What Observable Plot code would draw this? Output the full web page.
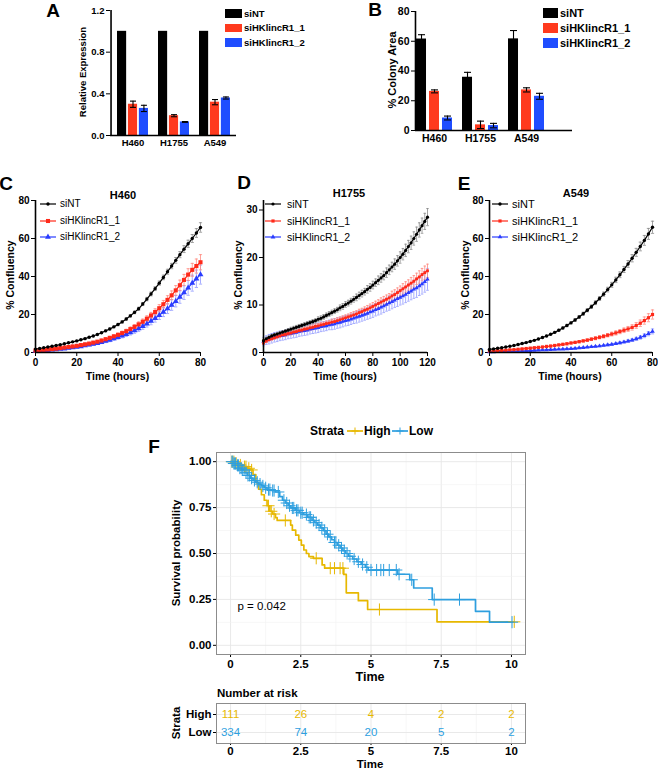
<!DOCTYPE html>
<html><head><meta charset="utf-8">
<script src="https://cdn.jsdelivr.net/npm/d3@7"></script>
<script src="https://cdn.jsdelivr.net/npm/@observablehq/plot@0.6"></script>
<style>
body{margin:0;background:#fff;}
#root{position:relative;width:658px;height:771px;overflow:hidden;font-family:"Liberation Sans",Arial,sans-serif;background:#fff;}
#root svg{overflow:visible;}
</style></head><body><div id="root"></div>
<script>
// ---------------- DATA ----------------
const barSeries = ["siNT", "siHKlincR1_1", "siHKlincR1_2"];
const cellLines = ["H460", "H1755", "A549"];
// Panel A: relative expression (per cell line)
const exprSiNT = [1.0, 1.0, 1.0];
const exprSiNTErr = [0, 0, 0];
const exprSi1 = [0.30, 0.19, 0.32];
const exprSi1Err = [0.03, 0.01, 0.025];
const exprSi2 = [0.26, 0.13, 0.36];
const exprSi2Err = [0.03, 0.004, 0.01];
const exprTicks = [0, 0.4, 0.8, 1.2];
// Panel B: % colony area
const colonySiNT = [61.5, 35.8, 61.6];
const colonySiNTErr = [2.9, 3.3, 5.6];
const colonySi1 = [26.3, 3.8, 27.3];
const colonySi1Err = [1.0, 2.5, 1.4];
const colonySi2 = [8.4, 3.3, 23.0];
const colonySi2Err = [1.3, 1.5, 2.0];
const colonyTicks = [0, 20, 40, 60, 80];

// Panels C-E: % confluency over time
const hoursCE = [0,2,4,6,8,10,12,14,16,18,20,22,24,26,28,30,32,34,36,38,40,42,44,46,48,50,52,54,56,58,60,62,64,66,68,70,72,74,76,78,80];
const hoursD = [0,2,4,6,8,10,12,14,16,18,20,22,24,26,28,30,32,34,36,38,40,42,44,46,48,50,52,54,56,58,60,62,64,66,68,70,72,74,76,78,80,82,84,86,88,90,92,94,96,98,100,102,104,106,108,110,112,114,116,118,120];

const h460SiNT = [1.8,2.1,2.5,2.9,3.3,3.7,4.1,4.6,5.1,5.6,6.1,6.7,7.3,8.0,8.7,9.5,10.4,11.4,12.4,13.5,14.7,16.1,17.6,19.3,21.1,23.0,25.5,28.1,30.8,33.6,36.5,39.5,42.5,45.5,48.5,51.5,54.4,57.2,60.0,62.9,65.8];
const h460SiNTErr = [0.2,0.2,0.2,0.2,0.2,0.2,0.2,0.3,0.3,0.3,0.3,0.3,0.3,0.4,0.4,0.4,0.4,0.5,0.5,0.5,0.6,0.6,0.6,0.7,0.7,0.8,0.8,0.9,1.0,1.0,1.1,1.2,1.3,1.4,1.5,1.6,1.8,1.9,2.1,2.3,2.5];
const h460Si1 = [1.0,1.2,1.4,1.6,1.8,2.0,2.3,2.6,2.9,3.2,3.5,3.9,4.3,4.7,5.2,5.7,6.3,7.0,7.7,8.5,9.3,10.2,11.2,12.3,13.5,14.8,16.2,17.8,19.5,21.3,23.3,25.4,27.7,30.1,32.7,35.4,38.2,41.0,43.5,45.5,47.5];
const h460Si1Err = [0.2,0.2,0.2,0.2,0.3,0.3,0.3,0.3,0.4,0.4,0.4,0.5,0.5,0.5,0.6,0.6,0.7,0.7,0.8,0.8,0.9,1.0,1.0,1.1,1.2,1.3,1.4,1.5,1.6,1.7,1.9,2.0,2.2,2.3,2.5,2.7,2.9,3.1,3.4,3.7,4.0];
const h460Si2 = [0.8,0.9,1.0,1.2,1.4,1.6,1.8,2.0,2.3,2.6,2.9,3.2,3.6,4.0,4.4,4.9,5.4,6.0,6.6,7.3,8.0,8.8,9.6,10.5,11.5,12.6,13.8,15.1,16.5,18.0,19.6,21.3,23.1,25.0,27.0,29.2,31.5,34.0,36.5,38.8,41.0];
const h460Si2Err = [0.2,0.2,0.2,0.3,0.3,0.3,0.3,0.4,0.4,0.4,0.5,0.5,0.5,0.6,0.6,0.7,0.7,0.8,0.9,0.9,1.0,1.1,1.2,1.3,1.4,1.5,1.6,1.7,1.9,2.0,2.2,2.4,2.6,2.8,3.0,3.3,3.6,3.9,4.2,4.6,5.0];

const h1755SiNT = [2.5,2.9,3.2,3.5,3.7,3.9,4.1,4.3,4.5,4.7,4.9,5.1,5.3,5.5,5.7,5.9,6.1,6.3,6.5,6.7,7.0,7.2,7.5,7.8,8.1,8.4,8.7,9.0,9.4,9.7,10.1,10.4,10.8,11.2,11.6,12.0,12.4,12.8,13.3,13.7,14.2,14.7,15.2,15.7,16.2,16.8,17.4,18.0,18.6,19.3,20.0,20.7,21.5,22.3,23.1,24.0,24.9,25.8,26.7,27.6,28.5];
const h1755SiNTErr = [0.3,0.3,0.3,0.3,0.3,0.3,0.3,0.3,0.3,0.3,0.4,0.4,0.4,0.4,0.4,0.4,0.4,0.4,0.4,0.4,0.5,0.5,0.5,0.5,0.5,0.5,0.5,0.5,0.6,0.6,0.6,0.6,0.6,0.6,0.7,0.7,0.7,0.7,0.8,0.8,0.8,0.8,0.9,0.9,0.9,1.0,1.0,1.0,1.1,1.1,1.2,1.2,1.3,1.3,1.4,1.4,1.5,1.5,1.6,1.7,1.8];
const h1755Si1 = [2.0,2.4,2.7,2.9,3.1,3.3,3.5,3.7,3.8,4.0,4.1,4.3,4.4,4.6,4.7,4.9,5.0,5.2,5.3,5.5,5.6,5.8,5.9,6.1,6.2,6.4,6.5,6.7,6.9,7.1,7.3,7.5,7.7,7.9,8.1,8.4,8.6,8.9,9.1,9.4,9.7,10.0,10.3,10.6,10.9,11.2,11.5,11.9,12.2,12.6,13.0,13.4,13.8,14.2,14.6,15.0,15.5,15.9,16.4,16.8,17.2];
const h1755Si1Err = [0.3,0.3,0.3,0.3,0.3,0.3,0.3,0.3,0.4,0.4,0.4,0.4,0.4,0.4,0.4,0.4,0.4,0.5,0.5,0.5,0.5,0.5,0.5,0.5,0.5,0.6,0.6,0.6,0.6,0.6,0.6,0.6,0.7,0.7,0.7,0.7,0.7,0.7,0.8,0.8,0.8,0.8,0.8,0.9,0.9,0.9,0.9,1.0,1.0,1.0,1.0,1.1,1.1,1.1,1.2,1.2,1.2,1.3,1.3,1.4,1.4];
const h1755Si2 = [2.3,2.6,2.8,3.0,3.2,3.3,3.5,3.6,3.7,3.9,4.0,4.1,4.2,4.4,4.5,4.6,4.7,4.9,5.0,5.1,5.2,5.4,5.5,5.6,5.8,5.9,6.0,6.2,6.3,6.5,6.7,6.8,7.0,7.2,7.4,7.6,7.8,8.0,8.2,8.5,8.7,9.0,9.2,9.5,9.8,10.1,10.4,10.7,11.0,11.3,11.6,11.9,12.2,12.6,12.9,13.3,13.6,14.0,14.4,14.9,15.4];
const h1755Si2Err = [0.9,0.9,1.0,1.0,1.0,1.0,1.0,1.0,1.0,1.0,1.0,1.0,1.0,1.0,1.0,1.0,1.0,1.0,1.0,1.0,1.0,1.0,1.0,1.0,1.0,1.1,1.1,1.1,1.1,1.1,1.1,1.1,1.1,1.1,1.2,1.2,1.2,1.2,1.2,1.3,1.3,1.3,1.3,1.4,1.4,1.4,1.5,1.5,1.5,1.6,1.6,1.7,1.7,1.8,1.8,1.9,2.0,2.0,2.1,2.2,2.3];

const a549SiNT = [1.6,1.9,2.2,2.5,2.9,3.3,3.7,4.2,4.7,5.2,5.8,6.4,7.1,7.9,8.7,9.6,10.6,11.7,12.9,14.2,15.6,17.1,18.7,20.4,22.2,24.1,26.2,28.4,30.7,33.1,35.6,38.2,40.9,43.7,46.6,49.6,52.7,55.8,59.0,62.4,65.9];
const a549SiNTErr = [0.2,0.2,0.2,0.2,0.2,0.2,0.3,0.3,0.3,0.3,0.3,0.3,0.4,0.4,0.4,0.4,0.5,0.5,0.5,0.6,0.6,0.7,0.7,0.8,0.8,0.9,1.0,1.0,1.1,1.2,1.3,1.4,1.5,1.6,1.8,1.9,2.1,2.3,2.6,2.9,3.2];
const a549Si1 = [0.8,0.9,1.0,1.1,1.2,1.4,1.5,1.7,1.9,2.1,2.3,2.5,2.7,2.9,3.2,3.4,3.7,4.0,4.3,4.6,5.0,5.3,5.7,6.1,6.5,7.0,7.5,8.0,8.5,9.1,9.7,10.3,11.0,11.7,12.4,13.2,14.2,15.4,16.8,18.3,20.0];
const a549Si1Err = [0.2,0.2,0.2,0.2,0.2,0.2,0.2,0.2,0.3,0.3,0.3,0.3,0.3,0.3,0.4,0.4,0.4,0.4,0.5,0.5,0.5,0.6,0.6,0.6,0.7,0.7,0.8,0.8,0.9,0.9,1.0,1.1,1.1,1.2,1.3,1.4,1.5,1.7,1.9,2.1,2.4];
const a549Si2 = [0.3,0.35,0.4,0.45,0.5,0.55,0.6,0.7,0.8,0.9,1.0,1.1,1.2,1.3,1.4,1.5,1.6,1.7,1.8,1.9,2.0,2.2,2.4,2.6,2.8,3.0,3.2,3.4,3.7,4.0,4.3,4.7,5.1,5.5,6.0,6.5,7.2,7.9,8.8,9.9,11.1];
const a549Si2Err = [0.1,0.1,0.1,0.1,0.1,0.1,0.1,0.1,0.1,0.1,0.2,0.2,0.2,0.2,0.2,0.2,0.2,0.2,0.2,0.3,0.3,0.3,0.3,0.3,0.3,0.4,0.4,0.4,0.4,0.5,0.5,0.5,0.6,0.6,0.7,0.7,0.8,0.9,1.0,1.1,1.3];

const ticksCE_x = [0, 20, 40, 60, 80];
const ticksD_x = [0, 20, 40, 60, 80, 100, 120];
const ticksCE_y = [0, 20, 40, 60, 80];
const ticksD_y = [0, 10, 20, 30];

// Panel F: Kaplan-Meier (years)
const strata = ["High", "Low"];
const highT = [0,0.15,0.3,0.45,0.6,0.7,0.8,0.9,0.95,1.0,1.1,1.2,1.3,1.4,1.5,1.6,1.66,2.14,2.2,2.32,2.43,2.52,2.61,2.7,2.79,2.95,3.26,3.35,4.03,4.12,4.55,4.88,7.35,10.1];
const highS = [1.0,0.991,0.982,0.973,0.964,0.955,0.93,0.897,0.88,0.85,0.82,0.79,0.76,0.73,0.715,0.695,0.68,0.655,0.627,0.6,0.573,0.546,0.519,0.5,0.483,0.474,0.438,0.42,0.386,0.286,0.243,0.195,0.128,0.128];
const lowT = [0,0.1,0.2,0.3,0.4,0.5,0.6,0.7,0.8,0.9,1.0,1.1,1.2,1.3,1.45,1.6,1.75,1.85,1.95,2.05,2.15,2.3,2.45,2.6,2.75,2.9,3.0,3.1,3.2,3.3,3.4,3.5,3.6,3.7,3.8,3.9,4.0,4.1,4.2,4.35,4.5,4.65,4.8,4.9,5.95,6.38,6.52,7.18,8.72,9.22,10.02];
const lowS = [1.0,0.99,0.98,0.965,0.955,0.94,0.925,0.91,0.898,0.888,0.878,0.868,0.858,0.848,0.843,0.835,0.81,0.79,0.775,0.76,0.748,0.735,0.722,0.712,0.697,0.68,0.668,0.655,0.64,0.625,0.605,0.59,0.575,0.56,0.545,0.53,0.515,0.5,0.485,0.47,0.455,0.44,0.425,0.41,0.387,0.357,0.312,0.249,0.185,0.126,0.126];
const highCensor = [0.05,0.12,0.2,0.35,0.5,0.55,0.65,0.75,1.35,1.45,1.55,1.95,3.05,3.55,3.7,3.9,4.0,5.3,10.1];
const lowCensor = [0.05,0.08,0.12,0.15,0.18,0.25,0.28,0.33,0.38,0.42,0.48,0.55,0.62,0.68,0.75,0.85,0.95,1.05,1.15,1.25,1.35,1.4,1.5,1.55,1.7,1.9,2.0,2.1,2.2,2.25,2.35,2.4,2.5,2.55,2.7,2.8,2.85,2.95,3.05,3.15,3.25,3.35,3.45,3.55,3.7,3.75,3.85,3.95,4.05,4.15,4.25,4.4,4.55,4.7,4.85,5.0,5.2,5.35,5.45,5.65,5.9,6.0,6.45,7.25,8.15,10.02];
const kmTicksX = [0, 2.5, 5, 7.5, 10];
const kmMinorX = [1.25, 3.75, 6.25, 8.75];
const kmTicksY = [0, 0.25, 0.5, 0.75, 1];
const kmMinorY = [0.125, 0.375, 0.625, 0.875];
const pValueLabel = "p = 0.042";
const riskTimes = [0, 2.5, 5, 7.5, 10];
const riskHigh = [111, 26, 4, 2, 2];
const riskLow = [334, 74, 20, 5, 2];

// ---------------- STYLE ----------------
const FONT = '"Liberation Sans", Arial, sans-serif';
const barColors = ["#000000", "#FF3A1E", "#1F4DFF"];
const lineColors = ["#000000", "#FF2A1A", "#2A3CFF"];
const errColors = ["#8a8a8a", "#FF8A80", "#8F98FF"];
const kmColors = ["#E7B800", "#2E9FDF"];

const root = document.getElementById("root");
function place(node, left, top) {
  node.style.position = "absolute";
  node.style.left = left + "px";
  node.style.top = top + "px";
  root.appendChild(node);
  return node;
}
function label(text, x, y, o = {}) {
  const d = document.createElement("div");
  d.textContent = text;
  d.style.cssText = `position:absolute;left:${x}px;top:${y}px;white-space:nowrap;line-height:1;font-family:${FONT};font-size:${o.size || 10}px;font-weight:${o.weight || "bold"};color:${o.color || "#000"};`;
  const tx = o.anchor === "start" ? "0" : o.anchor === "end" ? "-100%" : "-50%";
  d.style.transform = `translate(${tx},-50%)` + (o.rotate ? " rotate(-90deg)" : "");
  root.appendChild(d);
  return d;
}
const hline = {draw(ctx, size) { const r = Math.sqrt(size / Math.PI); ctx.moveTo(-r, 0); ctx.lineTo(r, 0); }};

// ---------------- BAR PANELS ----------------
function barChart(o) {
  const data = [];
  barSeries.forEach((s, i) => cellLines.forEach((g, j) => data.push({series: s, si: i, group: g, value: o.vals[i][j], err: o.errs[i][j]})));
  const range = o.width - o.mL - o.mR;
  const n = cellLines.length;
  const step = range / (n - o.pIn + 2 * o.pOut);
  const bw = step * (1 - o.pIn);
  const w = (bw - 2 * o.gap) / 3;
  const outerLeft = (range - step * (n - o.pIn)) * o.align;
  const marks = [];
  barSeries.forEach((s, i) => {
    const sub = data.filter(d => d.si === i);
    const insetLeft = i * (w + o.gap), insetRight = bw - insetLeft - w;
    const dx = insetLeft + w / 2 - bw / 2;
    marks.push(Plot.barY(sub, {x: "group", y: "value", fill: barColors[i], insetLeft, insetRight}));
    const e = sub.filter(d => d.err > 0);
    marks.push(Plot.ruleX(e, {x: "group", y1: d => d.value - d.err, y2: d => d.value + d.err, dx, stroke: "#000", strokeWidth: 1.1}));
    marks.push(Plot.dot(e, {x: "group", y: d => d.value + d.err, dx, symbol: hline, r: o.capR, stroke: "#000", strokeWidth: 1.1, fill: "none"}));
    marks.push(Plot.dot(e, {x: "group", y: d => d.value - d.err, dx, symbol: hline, r: o.capR, stroke: "#000", strokeWidth: 1.1, fill: "none"}));
  });
  marks.push(Plot.ruleY([0], {strokeWidth: 1.6}));
  marks.push(Plot.ruleX([cellLines[0]], {x: d => d, dx: -(bw / 2 + outerLeft), strokeWidth: 1.6}));
  return Plot.plot({
    width: o.width, height: o.height,
    marginLeft: o.mL, marginRight: o.mR, marginTop: o.mT, marginBottom: o.mB,
    style: {fontFamily: FONT, fontSize: o.font + "px", fontWeight: "bold", background: "transparent", color: "#000"},
    x: {domain: cellLines, paddingInner: o.pIn, paddingOuter: o.pOut, align: o.align, tickSize: 0, tickPadding: 4, label: null},
    y: {domain: o.yDomain, ticks: o.ticks, tickFormat: o.fmt, tickSize: 4, tickPadding: 2, label: null},
    marks
  });
}
function barLegend(x, y0, dy, sw, sh, font) {
  barSeries.forEach((s, i) => {
    const sq = document.createElement("div");
    sq.style.cssText = `width:${sw}px;height:${sh}px;background:${barColors[i]};`;
    place(sq, x, y0 + i * dy - sh / 2);
    label(s, x + sw + 2, y0 + i * dy, {size: font, anchor: "start"});
  });
}

place(barChart({
  vals: [exprSiNT, exprSi1, exprSi2], errs: [exprSiNTErr, exprSi1Err, exprSi2Err],
  ticks: exprTicks, fmt: d3.format(".1f"), yDomain: [0, 1.2],
  width: 330, height: 150, mL: 110, mR: 94, mT: 10, mB: 15,
  pIn: 0.25, pOut: 0.16, align: 0.5, gap: 2, capR: 3, font: 9.5
}), 0, 0);
place(barChart({
  vals: [colonySiNT, colonySi1, colonySi2], errs: [colonySiNTErr, colonySi1Err, colonySi2Err],
  ticks: colonyTicks, fmt: d3.format("d"), yDomain: [0, 80],
  width: 328, height: 150, mL: 85, mR: 86, mT: 11, mB: 20,
  pIn: 0.213, pOut: 0.277, align: 0.02, gap: 2, capR: 3.5, font: 10.5
}), 330, 0);
barLegend(225, 13.5, 14.5, 17, 8.5, 9.5);
barLegend(543, 13, 15, 15, 9.5, 11);
label("A", 53, 10, {size: 19});
label("B", 375, 9, {size: 19});
label("Relative Expression", 83, 72, {size: 9.5, rotate: true});
label("% Colony Area", 392, 70, {size: 11, rotate: true});

// ---------------- GROWTH PANELS ----------------
function growthPanel(o) {
  const marks = [];
  const order = [2, 1, 0];
  order.forEach(k => {
    const s = o.series[k];
    const data = o.hours.map((h, i) => ({h, v: s.vals[i], e: s.errs[i]}));
    marks.push(Plot.ruleX(data, {x: "h", y1: d => d.v - d.e, y2: d => d.v + d.e, stroke: errColors[k], strokeWidth: 0.8}));
    marks.push(Plot.dot(data, {x: "h", y: d => d.v + d.e, symbol: hline, r: o.capR, stroke: errColors[k], strokeWidth: 0.8, fill: "none"}));
    marks.push(Plot.dot(data, {x: "h", y: d => d.v - d.e, symbol: hline, r: o.capR, stroke: errColors[k], strokeWidth: 0.8, fill: "none"}));
  });
  order.forEach(k => {
    const s = o.series[k];
    const data = o.hours.map((h, i) => ({h, v: s.vals[i]}));
    marks.push(Plot.line(data, {x: "h", y: "v", stroke: lineColors[k], strokeWidth: 1.2}));
    marks.push(Plot.dot(data, {x: "h", y: "v", symbol: s.symbol, r: s.r, fill: lineColors[k], stroke: "none"}));
  });
  marks.push(Plot.ruleY([0], {strokeWidth: 1.6}));
  marks.push(Plot.ruleX([0], {strokeWidth: 1.6}));
  return Plot.plot({
    width: o.width, height: 195, marginLeft: 35, marginRight: o.mR, marginTop: 10, marginBottom: 33,
    style: {fontFamily: FONT, fontSize: "10px", fontWeight: "bold", background: "transparent", color: "#000"},
    x: {domain: o.xDomain, ticks: o.xTicks, tickSize: 4, tickPadding: 2, label: null},
    y: {domain: o.yDomain, ticks: o.yTicks, tickSize: 4, tickPadding: 2, label: null},
    marks
  });
}
function lineLegend(x, textX, y0, dy, font, rs) {
  barSeries.forEach((s, i) => {
    const svg = d3.create("svg").attr("width", 16).attr("height", 10).style("overflow", "visible");
    svg.append("line").attr("x1", 0).attr("x2", 16).attr("y1", 5).attr("y2", 5).attr("stroke", lineColors[i]).attr("stroke-width", 1.2);
    const sym = [d3.symbolCircle, d3.symbolSquare, d3.symbolTriangle][i];
    svg.append("path").attr("transform", "translate(8,5)").attr("d", d3.symbol(sym, Math.PI * rs[i] * rs[i])()).attr("fill", lineColors[i]);
    place(svg.node(), x, y0 + i * dy - 5);
    label(s, textX, y0 + i * dy, {size: font, weight: "normal", anchor: "start"});
  });
}

place(growthPanel({
  hours: hoursCE, xDomain: [0, 80], yDomain: [0, 80], xTicks: ticksCE_x, yTicks: ticksCE_y, width: 215, mR: 15, capR: 1.6,
  series: [
    {vals: h460SiNT, errs: h460SiNTErr, symbol: "circle", r: 1.7},
    {vals: h460Si1, errs: h460Si1Err, symbol: "square", r: 2.3},
    {vals: h460Si2, errs: h460Si2Err, symbol: "triangle", r: 2.2}
  ]
}), 0, 190);
place(growthPanel({
  hours: hoursD, xDomain: [0, 120], yDomain: [0, 32], xTicks: ticksD_x, yTicks: ticksD_y, width: 215, mR: 16, capR: 1.3,
  series: [
    {vals: h1755SiNT, errs: h1755SiNTErr, symbol: "circle", r: 1.6},
    {vals: h1755Si1, errs: h1755Si1Err, symbol: "square", r: 1.6},
    {vals: h1755Si2, errs: h1755Si2Err, symbol: "triangle", r: 1.6}
  ]
}), 228, 190);
place(growthPanel({
  hours: hoursCE, xDomain: [0, 80], yDomain: [0, 80], xTicks: ticksCE_x, yTicks: ticksCE_y, width: 204, mR: 6, capR: 1.6,
  series: [
    {vals: a549SiNT, errs: a549SiNTErr, symbol: "circle", r: 1.7},
    {vals: a549Si1, errs: a549Si1Err, symbol: "square", r: 1.8},
    {vals: a549Si2, errs: a549Si2Err, symbol: "triangle", r: 1.7}
  ]
}), 454, 190);
lineLegend(40, 60, 204, 16.5, 10, [1.7, 2.3, 2.2]);
lineLegend(265, 287, 204, 16.5, 10.5, [1.6, 1.8, 1.8]);
lineLegend(492, 512, 204, 16.5, 11, [1.7, 1.8, 1.7]);
label("H460", 123, 195, {size: 11});
label("H1755", 349, 193, {size: 11});
label("A549", 576, 193, {size: 11});
label("C", 6, 183, {size: 19});
label("D", 244, 182, {size: 19});
label("E", 464, 183, {size: 19});
[[10, 117.5], [238, 345], [465, 570]].forEach(([yl, xc]) => {
  label("% Confluency", yl, 275, {size: 10.5, rotate: true});
  label("Time (hours)", xc, 376, {size: 10.5});
});

// ---------------- PANEL F ----------------
function toPts(T, S) { return T.map((t, i) => ({t, s: S[i]})); }
function survAt(pts, t) { let s = 1; for (const p of pts) { if (p.t <= t) s = p.s; else break; } return s; }
const highPts = toPts(highT, highS), lowPts = toPts(lowT, lowS);
const censorData = [
  ...highCensor.map(t => ({t, s: survAt(highPts, t), g: "High"})),
  ...lowCensor.map(t => ({t, s: survAt(lowPts, t), g: "Low"}))
];
const gridMarks = (withY) => [
  Plot.ruleX(kmMinorX, {stroke: "#F2F2F2", strokeWidth: 0.6}),
  Plot.ruleX(kmTicksX, {stroke: "#E6E6E6", strokeWidth: 0.9}),
  ...(withY ? [Plot.ruleY(kmMinorY, {stroke: "#F2F2F2", strokeWidth: 0.6}), Plot.ruleY(kmTicksY, {stroke: "#E6E6E6", strokeWidth: 0.9})] : [])
];
const km = Plot.plot({
  width: 400, height: 246, marginLeft: 86, marginRight: 5, marginTop: 12, marginBottom: 32,
  style: {fontFamily: FONT, fontSize: "11.5px", fontWeight: "bold", background: "transparent", color: "#000"},
  x: {domain: [-0.5, 10.5], ticks: kmTicksX, tickFormat: d => String(d), tickSize: 3, tickPadding: 2, label: null},
  y: {domain: [-0.05, 1.05], ticks: kmTicksY, tickFormat: d3.format(".2f"), tickSize: 3, tickPadding: 2, label: null},
  color: {domain: strata, range: kmColors},
  marks: [
    ...gridMarks(true),
    Plot.frame({stroke: "#8c8c8c", strokeWidth: 1}),
    Plot.line(highPts, {x: "t", y: "s", curve: "step-after", stroke: kmColors[0], strokeWidth: 1.7}),
    Plot.line(lowPts, {x: "t", y: "s", curve: "step-after", stroke: kmColors[1], strokeWidth: 1.7}),
    Plot.dot(censorData, {x: "t", y: "s", symbol: "plus", r: 4, stroke: "g", strokeWidth: 1, fill: "none"}),
    Plot.text([pValueLabel], {frameAnchor: "bottom-left", dx: 21, dy: -45, text: d => d, textAnchor: "start", fontSize: 11.5, fontWeight: "normal"})
  ]
});
place(km, 130, 440);

const riskData = [
  ...riskTimes.map((t, i) => ({t, g: "High", n: riskHigh[i]})),
  ...riskTimes.map((t, i) => ({t, g: "Low", n: riskLow[i]}))
];
const risk = Plot.plot({
  width: 400, height: 70, marginLeft: 86, marginRight: 5, marginTop: 5, marginBottom: 25,
  style: {fontFamily: FONT, fontSize: "11.5px", fontWeight: "bold", background: "transparent", color: "#000"},
  x: {domain: [-0.5, 10.5], ticks: kmTicksX, tickFormat: d => String(d), tickSize: 2, tickPadding: 1, label: null},
  y: {type: "point", domain: strata, padding: 0.6, tickSize: 3, tickPadding: 2, label: null},
  color: {domain: strata, range: kmColors},
  marks: [
    ...gridMarks(false),
    Plot.ruleY(strata, {stroke: "#E6E6E6", strokeWidth: 0.9}),
    Plot.frame({stroke: "#8c8c8c", strokeWidth: 1}),
    Plot.text(riskData, {x: "t", y: "g", text: "n", fill: "g", fontSize: 11.5, fontWeight: "normal"})
  ]
});
place(risk, 130, 698);

// KM legend and labels
label("F", 154, 446, {size: 19});
label("Strata", 310, 431, {size: 12, anchor: "start"});
[["High", 347, 364], ["Low", 392, 409]].forEach(([g, ix, tx], i) => {
  const svg = d3.create("svg").attr("width", 16).attr("height", 10).style("overflow", "visible");
  svg.append("line").attr("x1", 0).attr("x2", 16).attr("y1", 5).attr("y2", 5).attr("stroke", kmColors[i]).attr("stroke-width", 1.7);
  svg.append("path").attr("d", "M8,1.5V8.5M4.5,5H11.5").attr("stroke", kmColors[i]).attr("stroke-width", 1);
  place(svg.node(), ix, 426);
  label(g, tx, 431, {size: 12, anchor: "start"});
});
label("Survival probability", 177, 553, {size: 11.5, rotate: true});
label("Time", 370, 677, {size: 12.5});
label("Number at risk", 217, 694, {size: 11.5, anchor: "start"});
label("Strata", 177, 723, {size: 11.5, rotate: true});
label("Time", 370, 765, {size: 11.5});
</script></body></html>
